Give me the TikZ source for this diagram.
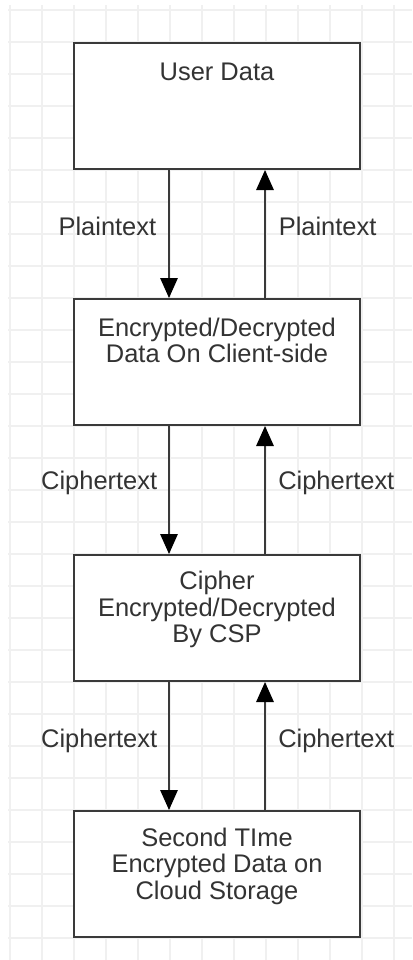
\documentclass[tikz,border=0pt]{standalone}
\usepackage{fontspec}
\setmainfont{Liberation Sans}
\usetikzlibrary{arrows.meta}
\definecolor{gridline}{RGB}{240,240,240}
\definecolor{ink}{RGB}{51,51,51}
\definecolor{edge}{RGB}{58,58,58}

\begin{document}
\begin{tikzpicture}[x=0.75pt,y=-0.75pt,
  stagebox/.style={draw=edge, line width=1.5pt, fill=white, inner sep=0pt,
    minimum width=214.5pt, minimum height=94.5pt},
  boxtext/.style={text=ink, align=center, inner sep=0pt,
    font=\fontsize{19.1pt}{19.9pt}\selectfont},
  flowlabel/.style={boxtext},
  flow/.style={draw=edge, line width=1.5pt,
    -{Triangle[length=15pt,width=13pt,fill=black,color=black]}}]

% canvas and background grid
\useasboundingbox (0,0) rectangle (412,960);
\fill[white] (0,0) rectangle (412,960);
\foreach \gx in {10,42,...,394} \draw[gridline, line width=0.9pt] (\gx,5) -- (\gx,960);
\foreach \gy in {10,42,...,938} \draw[gridline, line width=0.9pt] (8,\gy) -- (412,\gy);

% stages
\node[stagebox] (user)   at (217,106) {};
\node[stagebox] (client) at (217,362) {};
\node[stagebox] (csp)    at (217,618) {};
\node[stagebox] (cloud)  at (217,874) {};

\node[boxtext] (userT)   at (217,72)    {User Data};
\node[boxtext] (clientT) at (217,340.5) {Encrypted/Decrypted\\Data On Client-side};
\node[boxtext] (cspT)    at (217,609.5) {Cipher\\Encrypted/Decrypted\\By CSP};
\node[boxtext] (cloudT)  at (217,866)   {Second TIme\\Encrypted Data on\\Cloud Storage};

% downward (encrypt) and upward (decrypt) flows
\draw[flow] ([xshift=-36pt]user.south)   -- ([xshift=-36pt]client.north);
\draw[flow] ([xshift=36pt]client.north)  -- ([xshift=36pt]user.south);
\draw[flow] ([xshift=-36pt]client.south) -- ([xshift=-36pt]csp.north);
\draw[flow] ([xshift=36pt]csp.north)     -- ([xshift=36pt]client.south);
\draw[flow] ([xshift=-36pt]csp.south)    -- ([xshift=-36pt]cloud.north);
\draw[flow] ([xshift=36pt]cloud.north)   -- ([xshift=36pt]csp.south);

% flow labels
\node[flowlabel, anchor=east] (pl1) at (156.5,226.7) {Plaintext};
\node[flowlabel, anchor=west] (pl2) at (278.5,226.7) {Plaintext};
\node[flowlabel, anchor=east] (cl1) at (157.5,482.7) {Ciphertext};
\node[flowlabel, anchor=west] (cl2) at (278,482.7)   {Ciphertext};
\node[flowlabel, anchor=east] (cl3) at (157.5,740.7) {Ciphertext};
\node[flowlabel, anchor=west] (cl4) at (278,740.7)   {Ciphertext};
\end{tikzpicture}
\end{document}
